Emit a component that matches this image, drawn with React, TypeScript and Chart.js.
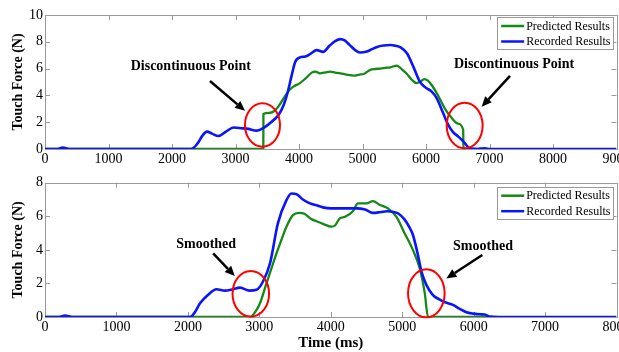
import React, { useEffect, useRef } from 'react';
import { Chart, registerables } from 'chart.js';
Chart.register(...registerables);

const FONT = '"Liberation Serif", "Times New Roman", serif';

// ---------- Top panel data ----------
const topRecordedTime = [0, 200, 280, 380, 500, 2300, 2400, 2480, 2550, 2630, 2730, 2850, 2970, 3100, 3200, 3330, 3450, 3560, 3680, 3760, 3820, 3880, 3940, 4020, 4100, 4180, 4280, 4380, 4480, 4570, 4650, 4720, 4800, 4880, 4960, 5070, 5150, 5230, 5330, 5440, 5520, 5600, 5700, 5800, 5900, 5990, 6090, 6170, 6270, 6350, 6420, 6510, 6590, 6690, 6800, 6930, 7000, 9000];
const topRecordedForce = [0, 0, 0.1, 0, 0, 0, 0.4, 1.0, 1.3, 1.15, 0.97, 1.3, 1.6, 1.55, 1.5, 1.37, 1.6, 2.0, 2.55, 3.3, 4.2, 5.4, 6.5, 6.85, 6.9, 7.1, 7.38, 7.25, 7.7, 8.05, 8.2, 8.1, 7.75, 7.4, 7.2, 7.28, 7.45, 7.62, 7.72, 7.76, 7.7, 7.58, 7.14, 6.15, 5.05, 4.6, 4.28, 3.78, 2.68, 1.8, 1.3, 0.92, 0.55, 0.05, 0, 0.05, 0, 0];

const topPredictedTime = [0, 3438, 3440, 3530, 3600, 3680, 3760, 3830, 3910, 4010, 4100, 4200, 4260, 4330, 4420, 4490, 4570, 4650, 4750, 4860, 4950, 5020, 5120, 5200, 5280, 5360, 5440, 5540, 5620, 5700, 5780, 5850, 5920, 5970, 6030, 6100, 6200, 6300, 6400, 6500, 6585, 6590, 6800];
const topPredictedForce = [0, 0, 2.62, 2.7, 2.8, 3.2, 3.8, 4.3, 4.65, 4.9, 5.25, 5.7, 5.78, 5.65, 5.72, 5.77, 5.7, 5.65, 5.55, 5.47, 5.55, 5.6, 5.9, 5.97, 6.0, 6.05, 6.1, 6.22, 5.95, 5.6, 5.15, 4.92, 5.05, 5.22, 5.1, 4.7, 3.9, 3.0, 2.35, 1.9, 1.45, 0, 0];

// ---------- Bottom panel data ----------
const botRecordedTime = [0, 200, 280, 380, 2030, 2100, 2170, 2280, 2400, 2520, 2630, 2730, 2860, 2960, 3050, 3150, 3260, 3380, 3450, 3520, 3610, 3710, 3800, 3890, 4000, 4130, 4360, 4480, 4590, 4700, 4790, 4880, 4950, 5035, 5100, 5150, 5220, 5270, 5340, 5430, 5520, 5600, 5710, 5800, 5900, 6000, 6090, 6150, 6230, 6350, 8000];
const botRecordedForce = [0, 0, 0.08, 0, 0, 0.3, 0.82, 1.31, 1.65, 1.57, 1.65, 1.75, 1.57, 1.62, 2.1, 3.2, 5.58, 6.96, 7.36, 7.32, 7.0, 6.77, 6.65, 6.53, 6.47, 6.47, 6.47, 6.4, 6.2, 6.25, 6.3, 6.25, 6.15, 5.8, 5.35, 4.9, 3.7, 2.7, 1.9, 1.31, 1.05, 0.88, 0.72, 0.5, 0.28, 0.2, 0.16, 0.15, 0.02, 0, 0];

const botPredictedTime = [0, 2870, 2950, 3010, 3100, 3170, 3240, 3310, 3380, 3470, 3560, 3630, 3720, 3800, 3890, 4010, 4060, 4126, 4200, 4310, 4380, 4500, 4590, 4690, 4800, 4920, 5035, 5150, 5245, 5315, 5362, 6200];
const botPredictedForce = [0, 0, 0.35, 0.82, 2.0, 2.9, 3.79, 4.6, 5.38, 6.07, 6.2, 6.15, 5.85, 5.7, 5.55, 5.38, 5.45, 5.87, 5.97, 6.3, 6.77, 6.77, 6.9, 6.67, 6.47, 5.97, 4.98, 4.0, 2.9, 1.45, 0, 0];

const legendLabels = ['Predicted Results', 'Recorded Results'];
const predictedColor = '#138a13';
const recordedColor = '#0a14ff';

// Annotations (data units)
const topAnnotations = {
  texts: [
    { x: 2296, y: 6.2, text: 'Discontinuous Point' },
    { x: 7386, y: 6.32, text: 'Discontinuous Point' },
  ],
  arrows: [
    { x1: 2598, y1: 5.07, x2: 3150, y2: 2.85 },
    { x1: 7323, y1: 5.45, x2: 6877, y2: 3.16 },
  ],
  ellipses: [
    { x: 3425, y: 1.79, rx: 276, ry: 1.62 },
    { x: 6609, y: 1.75, rx: 283, ry: 1.7 },
  ],
};
const botAnnotations = {
  texts: [
    { x: 2256, y: 4.35, text: 'Smoothed' },
    { x: 6131, y: 4.23, text: 'Smoothed' },
  ],
  arrows: [
    { x1: 2354, y1: 3.79, x2: 2657, y2: 2.44 },
    { x1: 6121, y1: 3.69, x2: 5618, y2: 2.3 },
  ],
  ellipses: [
    { x: 2881, y: 1.38, rx: 256, ry: 1.36 },
    { x: 5338, y: 1.41, rx: 256, ry: 1.43 },
  ],
};

const toPoints = (t: number[], f: number[]) => t.map((x, i) => ({ x, y: f[i] }));

function makePlugin(annot: any, legendTopOffset: number) {
  return {
    id: 'matlabStyle',
    beforeDatasetsDraw(chart: any) {
      const { ctx, chartArea: a, scales } = chart;
      ctx.save();
      ctx.strokeStyle = '#9a9a9a';
      ctx.lineWidth = 1;
      ctx.strokeRect(Math.round(a.left) + 0.5, Math.round(a.top) + 0.5, Math.round(a.right - a.left), Math.round(a.bottom - a.top));
      const tl = 5;
      ctx.beginPath();
      scales.x.ticks.forEach((t: any) => {
        const px = Math.round(scales.x.getPixelForValue(t.value)) + 0.5;
        if (px <= a.left + 1 || px >= a.right - 1) return;
        ctx.moveTo(px, a.bottom); ctx.lineTo(px, a.bottom - tl);
        ctx.moveTo(px, a.top); ctx.lineTo(px, a.top + tl);
      });
      scales.y.ticks.forEach((t: any) => {
        const py = Math.round(scales.y.getPixelForValue(t.value)) + 0.5;
        if (py <= a.top + 1 || py >= a.bottom - 1) return;
        ctx.moveTo(a.left, py); ctx.lineTo(a.left + tl, py);
        ctx.moveTo(a.right, py); ctx.lineTo(a.right - tl, py);
      });
      ctx.stroke();
      ctx.restore();
    },
    afterDatasetsDraw(chart: any) {
      const { ctx, chartArea: a, scales } = chart;
      const xs = scales.x, ys = scales.y;
      ctx.save();
      // ellipses
      ctx.strokeStyle = '#ff0000';
      ctx.lineWidth = 2;
      annot.ellipses.forEach((e: any) => {
        const cx = xs.getPixelForValue(e.x), cy = ys.getPixelForValue(e.y);
        const rx = Math.abs(xs.getPixelForValue(e.x + e.rx) - cx);
        const ry = Math.abs(ys.getPixelForValue(e.y + e.ry) - cy);
        ctx.beginPath();
        ctx.ellipse(cx, cy, rx, ry, 0, 0, Math.PI * 2);
        ctx.stroke();
      });
      // arrows
      ctx.strokeStyle = '#000';
      ctx.fillStyle = '#000';
      annot.arrows.forEach((r: any) => {
        const x1 = xs.getPixelForValue(r.x1), y1 = ys.getPixelForValue(r.y1);
        const x2 = xs.getPixelForValue(r.x2), y2 = ys.getPixelForValue(r.y2);
        const ang = Math.atan2(y2 - y1, x2 - x1);
        const hl = 10, hw = 4.5;
        const bx = x2 - hl * Math.cos(ang), by = y2 - hl * Math.sin(ang);
        ctx.lineWidth = 2.5;
        ctx.beginPath();
        ctx.moveTo(x1, y1); ctx.lineTo(bx, by);
        ctx.stroke();
        ctx.beginPath();
        ctx.moveTo(x2, y2);
        ctx.lineTo(bx + hw * Math.sin(ang), by - hw * Math.cos(ang));
        ctx.lineTo(bx - hw * Math.sin(ang), by + hw * Math.cos(ang));
        ctx.closePath();
        ctx.fill();
      });
      // texts
      ctx.font = `bold 14px ${FONT}`;
      ctx.textAlign = 'center';
      ctx.textBaseline = 'middle';
      annot.texts.forEach((t: any) => {
        ctx.fillText(t.text, xs.getPixelForValue(t.x), ys.getPixelForValue(t.y));
      });
      // legend
      ctx.font = `12px ${FONT}`;
      ctx.textAlign = 'left';
      const tw = Math.max(...legendLabels.map((l) => ctx.measureText(l).width));
      const bw = 4 + 23 + 2 + tw + 3;
      const bh = 32;
      const bx = a.right - 3 - bw;
      const by = a.top + legendTopOffset;
      ctx.fillStyle = '#fff';
      ctx.fillRect(bx, by, bw, bh);
      ctx.strokeStyle = '#9a9a9a';
      ctx.lineWidth = 1;
      ctx.strokeRect(Math.round(bx) + 0.5, Math.round(by) + 0.5, Math.round(bw), bh);
      const colors = [predictedColor, recordedColor];
      legendLabels.forEach((l, i) => {
        const yy = by + 9 + i * 15.5;
        ctx.strokeStyle = colors[i];
        ctx.lineWidth = 2.5;
        ctx.beginPath();
        ctx.moveTo(bx + 4, yy); ctx.lineTo(bx + 27, yy);
        ctx.stroke();
        ctx.fillStyle = '#000';
        ctx.fillText(l, bx + 29, yy + 0.5);
      });
      ctx.restore();
    },
  };
}

function buildConfig(opts: {
  recorded: { x: number; y: number }[];
  predicted: { x: number; y: number }[];
  xMax: number;
  yMax: number;
  padTop: number;
  xHeight: number;
  xTitle: string | null;
  annot: any;
  legendTop: number;
}) {
  return {
    type: 'line' as const,
    data: {
      datasets: [
        {
          label: legendLabels[1],
          data: opts.recorded,
          borderColor: recordedColor,
          borderWidth: 2.6,
          pointRadius: 0,
          cubicInterpolationMode: 'monotone' as const,
          fill: false,
        },
        {
          label: legendLabels[0],
          data: opts.predicted,
          borderColor: predictedColor,
          borderWidth: 2.3,
          pointRadius: 0,
          cubicInterpolationMode: 'monotone' as const,
          fill: false,
        },
      ],
    },
    options: {
      responsive: false,
      animation: false as const,
      events: [],
      layout: { padding: { top: opts.padTop, right: 2.5, left: 0, bottom: 0 } },
      plugins: { legend: { display: false }, tooltip: { enabled: false } },
      scales: {
        x: {
          type: 'linear' as const,
          min: 0,
          max: opts.xMax,
          grid: { display: false, drawTicks: false },
          border: { display: false },
          ticks: {
            stepSize: 1000,
            autoSkip: false,
            maxRotation: 0,
            padding: 2,
            color: '#000',
            font: { family: FONT, size: 14 },
            callback: (v: any) => String(v),
          },
          title: {
            display: !!opts.xTitle,
            text: opts.xTitle || '',
            color: '#000',
            font: { family: FONT, size: 15, weight: 'bold' as const },
            padding: { top: 0, bottom: 0 },
          },
          afterFit: (s: any) => {
            s.height = opts.xHeight;
            s.paddingLeft = 0;
            s.paddingRight = 0;
          },
        },
        y: {
          type: 'linear' as const,
          min: 0,
          max: opts.yMax,
          grid: { display: false, drawTicks: false },
          border: { display: false },
          ticks: {
            stepSize: 2,
            padding: 2,
            color: '#000',
            font: { family: FONT, size: 14 },
            callback: (v: any) => String(v),
          },
          title: {
            display: true,
            text: 'Touch Force (N)',
            color: '#000',
            font: { family: FONT, size: 14, weight: 'bold' as const },
            padding: { top: 9.6, bottom: 0 },
          },
          afterFit: (s: any) => {
            s.width = 45;
            s.paddingTop = 0;
            s.paddingBottom = 0;
          },
        },
      },
    },
    plugins: [makePlugin(opts.annot, opts.legendTop)],
  };
}

export default function App() {
  const topRef = useRef<HTMLCanvasElement>(null);
  const botRef = useRef<HTMLCanvasElement>(null);

  useEffect(() => {
    const top = new Chart(
      topRef.current as HTMLCanvasElement,
      buildConfig({
        recorded: toPoints(topRecordedTime, topRecordedForce),
        predicted: toPoints(topPredictedTime, topPredictedForce),
        xMax: 9000,
        yMax: 10,
        padTop: 15,
        xHeight: 19,
        xTitle: null,
        annot: topAnnotations,
        legendTop: 2,
      }) as any
    );
    const bot = new Chart(
      botRef.current as HTMLCanvasElement,
      buildConfig({
        recorded: toPoints(botRecordedTime, botRecordedForce),
        predicted: toPoints(botPredictedTime, botPredictedForce),
        xMax: 8000,
        yMax: 8,
        padTop: 14.7,
        xHeight: 35,
        xTitle: 'Time (ms)',
        annot: botAnnotations,
        legendTop: 4,
      }) as any
    );
    return () => {
      top.destroy();
      bot.destroy();
    };
  }, []);

  return (
    <div style={{ position: 'fixed', left: 0, top: 0, width: 619, height: 352, background: '#fff' }}>
      <canvas ref={topRef} width={619} height={168} style={{ display: 'block' }} />
      <canvas ref={botRef} width={619} height={184} style={{ display: 'block' }} />
    </div>
  );
}
